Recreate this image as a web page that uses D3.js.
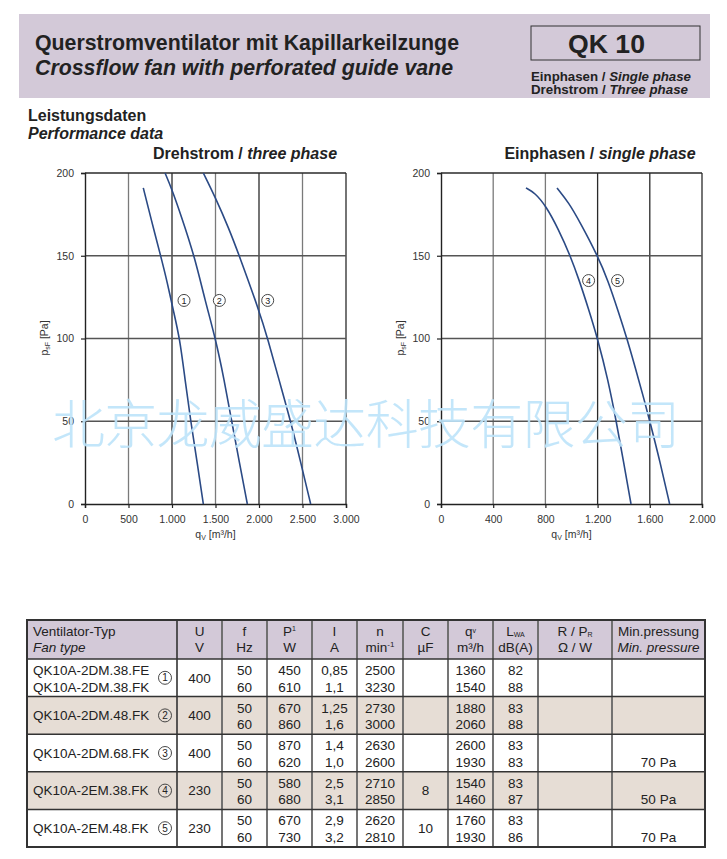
<!DOCTYPE html>
<html>
<head>
<meta charset="utf-8">
<script src="https://cdn.jsdelivr.net/npm/d3@7"></script>
<style>
  body { margin: 0; background: #fff; }
  text { font-family: "Liberation Sans", Arial, Helvetica, sans-serif; }
</style>
</head>
<body>
<div id="chart"></div>
<script>
// performance curves, [q_v m3/h, p_sF Pa]
const curve1 = [[670,191],[760,172],[870,150],[950,133],[1010,118],[1090,100],[1150,75],[1215,50],[1290,25],[1360,0]];
const curve2 = [[920,200],[1000,190],[1100,175],[1257,150],[1380,123],[1500,100],[1600,75],[1686,50],[1775,25],[1866,0]];
const curve3 = [[1360,200],[1500,185],[1650,167],[1774,150],[2000,117],[2100,100],[2230,75],[2364,50],[2480,25],[2594,0]];
const curve4 = [[651,191],[720,188],[805,180],[900,166],[991,150],[1060,135],[1130,118],[1200,100],[1280,75],[1343,50],[1400,25],[1456,0]];
const curve5 = [[889,191],[980,182],[1067,170],[1200,150],[1280,135],[1360,116],[1425,100],[1490,82],[1550,65],[1600,50],[1680,25],[1752,0]];

const threePhaseTicksX = [0,500,1000,1500,2000,2500,3000];
const singlePhaseTicksX = [0,400,800,1200,1600,2000];
const pressureTicks = [0,50,100,150,200];

// curve labels [id, q, p]
const threePhaseLabels = [[1,1138,123],[2,1544,123],[3,2100,123]];
const singlePhaseLabels = [[4,1131,135],[5,1353,135]];

// table data
const fanTypes = [["QK10A-2DM.38.FE","QK10A-2DM.38.FK"],["QK10A-2DM.48.FK"],["QK10A-2DM.68.FK"],["QK10A-2EM.38.FK"],["QK10A-2EM.48.FK"]];
const voltage = ["400","400","400","230","230"];
const freq = [["50","60"],["50","60"],["50","60"],["50","60"],["50","60"]];
const power = [["450","610"],["670","860"],["870","620"],["580","680"],["670","730"]];
const current = [["0,85","1,1"],["1,25","1,6"],["1,4","1,0"],["2,5","3,1"],["2,9","3,2"]];
const speed = [["2500","3230"],["2730","3000"],["2630","2600"],["2710","2850"],["2620","2810"]];
const capacitor = ["","","","8","10"];
const airflow = [["1360","1540"],["1880","2060"],["2600","1930"],["1540","1460"],["1760","1930"]];
const noise = [["82","88"],["83","88"],["83","83"],["83","87"],["83","86"]];
const minPressure = ["","","70 Pa","50 Pa","70 Pa"];

const W = 727, H = 859;
const purple = "#d3c9d8", beige = "#e6ddd5", blue = "#2b4a85";

let svg = d3.select("#chart").append("svg")
    .attr("width", W).attr("height", H)
    .style("background", "#fff");

// ---- header
svg.append("rect").attr("x", 19).attr("y", 14).attr("width", 691).attr("height", 84).attr("fill", purple);
svg.append("text").attr("x", 35).attr("y", 50).style("font-size", "22px").style("font-weight", "bold").attr("fill", "#222")
    .attr("textLength", 424).attr("lengthAdjust", "spacingAndGlyphs")
    .text("Querstromventilator mit Kapillarkeilzunge");
svg.append("text").attr("x", 35).attr("y", 75).style("font-size", "22px").style("font-weight", "bold").style("font-style", "italic").attr("fill", "#222")
    .attr("textLength", 418).attr("lengthAdjust", "spacingAndGlyphs")
    .text("Crossflow fan with perforated guide vane");
svg.append("rect").attr("x", 531).attr("y", 26).attr("width", 169).attr("height", 34)
    .attr("fill", "none").attr("stroke", "#333").attr("stroke-width", 1);
svg.append("text").attr("x", 568).attr("y", 53).style("font-size", "26px").style("font-weight", "bold").attr("fill", "#222")
    .attr("textLength", 77).attr("lengthAdjust", "spacingAndGlyphs")
    .text("QK 10");

function mixedLine(x, y, size, normal, italic, anchor, len) {
    let t = svg.append("text").attr("x", x).attr("y", y).attr("text-anchor", anchor || "start")
        .style("font-size", size + "px").style("font-weight", "bold").attr("fill", "#222");
    if (len) t.attr("textLength", len).attr("lengthAdjust", "spacingAndGlyphs");
    t.append("tspan").text(normal);
    t.append("tspan").style("font-style", "italic").text(italic);
}
mixedLine(531, 81, 12, "Einphasen / ", "Single phase", "start", 160);
mixedLine(531, 94, 12, "Drehstrom / ", "Three phase", "start", 157);

svg.append("text").attr("x", 28).attr("y", 121).style("font-size", "16px").style("font-weight", "bold").attr("fill", "#222").text("Leistungsdaten");
svg.append("text").attr("x", 28).attr("y", 139).style("font-size", "16px").style("font-weight", "bold").style("font-style", "italic").attr("fill", "#222").text("Performance data");

// ---- charts
const deFormat = d3.formatLocale({decimal: ",", thousands: ".", grouping: [3], currency: ["", ""]}).format(",");

function drawChart(opt) {
    let x = d3.scaleLinear().domain(opt.xDomain).range(opt.xRange);
    let y = d3.scaleLinear().domain([0, 200]).range([504, 173]);
    let g = svg.append("g");

    mixedLine(opt.titleX, 159, 16, opt.title[0], opt.title[1], "middle");

    // grid
    g.selectAll(".vg").data(opt.ticksX.slice(1)).enter().append("line")
        .attr("x1", d => x(d)).attr("x2", d => x(d)).attr("y1", y(0)).attr("y2", y(200))
        .attr("stroke", d => opt.darkX.includes(d) ? "#2a2a2a" : "#7a7a7a").attr("stroke-width", 1.3);
    g.selectAll(".hg").data(pressureTicks.slice(1)).enter().append("line")
        .attr("x1", x.range()[0]).attr("x2", x.range()[1]).attr("y1", d => y(d)).attr("y2", d => y(d))
        .attr("stroke", d => d === 200 ? "#2a2a2a" : "#555").attr("stroke-width", 1.3);

    let yAxis = g.append("g").attr("transform", `translate(${x.range()[0]},0)`)
        .call(d3.axisLeft(y).tickValues(pressureTicks).tickSize(4).tickPadding(7));
    let xAxis = g.append("g").attr("transform", `translate(0,${y(0)})`)
        .call(d3.axisBottom(x).tickValues(opt.ticksX).tickFormat(deFormat).tickSize(4).tickPadding(8));
    [yAxis, xAxis].forEach(a => {
        a.select(".domain").attr("stroke", "#222").attr("stroke-width", 1.4);
        a.selectAll(".tick line").attr("stroke", "#222").attr("stroke-width", 1.2);
        a.selectAll(".tick text").attr("fill", "#333").style("font-size", "10.5px")
            .style("font-family", "Liberation Sans, Arial, sans-serif");
    });

    // axis titles
    let xt = g.append("text").attr("x", (x.range()[0] + x.range()[1]) / 2).attr("y", 538)
        .attr("text-anchor", "middle").style("font-size", "10.5px").attr("fill", "#333");
    xt.append("tspan").text("q");
    xt.append("tspan").attr("dy", 2).style("font-size", "7px").text("V");
    xt.append("tspan").attr("dy", -2).text(" [m³/h]");
    let yt = g.append("text").attr("transform", `translate(${x.range()[0] - 37},338) rotate(-90)`)
        .attr("text-anchor", "middle").style("font-size", "10.5px").attr("fill", "#333");
    yt.append("tspan").text("p");
    yt.append("tspan").attr("dy", 2).style("font-size", "7px").text("sF");
    yt.append("tspan").attr("dy", -2).text(" [Pa]");

    let line = d3.line().x(d => x(d[0])).y(d => y(d[1])).curve(d3.curveBasis);
    g.selectAll(".curve").data(opt.curves).enter().append("path")
        .attr("d", line).attr("fill", "none").attr("stroke", blue).attr("stroke-width", 1.6);

    let lab = g.selectAll(".lab").data(opt.labels).enter().append("g")
        .attr("transform", d => `translate(${x(d[1])},${y(d[2])})`);
    lab.append("circle").attr("r", 6).attr("fill", "#fff").attr("stroke", "#333").attr("stroke-width", 0.9);
    lab.append("text").attr("y", 3.3).attr("text-anchor", "middle").style("font-size", "9px").attr("fill", "#222").text(d => d[0]);
}

drawChart({
    xDomain: [0, 3000], xRange: [85, 346], ticksX: threePhaseTicksX, darkX: [1000, 2000, 3000], titleX: 245,
    title: ["Drehstrom / ", "three phase"], curves: [curve1, curve2, curve3], labels: threePhaseLabels
});
drawChart({
    xDomain: [0, 2000], xRange: [441, 702], ticksX: singlePhaseTicksX, darkX: [1200, 1600, 2000], titleX: 600,
    title: ["Einphasen / ", "single phase"], curves: [curve4, curve5], labels: singlePhaseLabels
});

// watermark
svg.append("text").attr("x", 366).attr("y", 444).attr("text-anchor", "middle")
    .style("font-family", "Noto Sans CJK SC").style("font-size", "53px").style("font-weight", 300)
    .attr("fill", "#bde3f9").attr("fill-opacity", 0.9)
    .attr("textLength", 628).attr("lengthAdjust", "spacing")
    .text("北京龙威盛达科技有限公司");

// ---- table
const colX = [27, 177, 222, 267, 312, 357, 403, 448, 493, 538, 612, 705];
const headTop = 620, headBottom = 659, rowH = 37.6;
const rowTop = i => headBottom + i * rowH;
const tableBottom = rowTop(5);

let tb = svg.append("g");
tb.append("rect").attr("x", colX[0]).attr("y", headTop).attr("width", colX[11] - colX[0]).attr("height", headBottom - headTop).attr("fill", purple);
fanTypes.forEach((f, i) => {
    tb.append("rect").attr("x", colX[0]).attr("y", rowTop(i)).attr("width", colX[11] - colX[0]).attr("height", rowH)
        .attr("fill", i % 2 === 1 ? beige : "#fff");
});

const center = c => (colX[c] + colX[c + 1]) / 2;
function cellText(c, yy, txt, size, italic, anchor, xx) {
    return tb.append("text").attr("x", xx !== undefined ? xx : center(c)).attr("y", yy)
        .attr("text-anchor", anchor || "middle").style("font-size", (size || 13.5) + "px")
        .style("font-style", italic ? "italic" : "normal").attr("fill", "#222").text(txt);
}

// header texts
const h1 = headTop + 16, h2 = headTop + 32;
cellText(0, h1, "Ventilator-Typ", 13.5, false, "start", 33);
cellText(0, h2, "Fan type", 13.5, true, "start", 33);
cellText(1, h1, "U"); cellText(1, h2, "V");
cellText(2, h1, "f"); cellText(2, h2, "Hz");
let p1 = cellText(3, h1, "P"); p1.append("tspan").attr("dy", -5).style("font-size", "7px").text("1");
cellText(3, h2, "W");
cellText(4, h1, "I"); cellText(4, h2, "A");
cellText(5, h1, "n");
let mn = cellText(5, h2, "min"); mn.append("tspan").attr("dy", -5).style("font-size", "8px").text("-1");
cellText(6, h1, "C"); cellText(6, h2, "µF");
let qv = cellText(7, h1, "q"); qv.append("tspan").attr("dy", -3).style("font-size", "7px").text("v");
cellText(7, h2, "m³/h");
let lw = cellText(8, h1, "L"); lw.append("tspan").attr("dy", 1).style("font-size", "7px").text("WA");
cellText(8, h2, "dB(A)");
let rp = cellText(9, h1, "R / P"); rp.append("tspan").attr("dy", 1).style("font-size", "7px").text("R");
cellText(9, h2, "Ω  / W");
cellText(10, h1, "Min.pressung");
cellText(10, h2, "Min. pressure", 13.5, true);

// rows
fanTypes.forEach((names, i) => {
    let top = rowTop(i), mid = top + 23.5;
    if (names.length === 2) {
        cellText(0, top + 16, names[0], 13.5, false, "start", 33);
        cellText(0, top + 32.5, names[1], 13.5, false, "start", 33);
    } else {
        cellText(0, mid, names[0], 13.5, false, "start", 33);
    }
    let cg = tb.append("g").attr("transform", `translate(165,${top + rowH / 2})`);
    cg.append("circle").attr("r", 6.5).attr("fill", "none").attr("stroke", "#333").attr("stroke-width", 0.9);
    cg.append("text").attr("y", 3.5).attr("text-anchor", "middle").style("font-size", "10px").attr("fill", "#222").text(i + 1);

    cellText(1, mid, voltage[i]);
    [freq, power, current, speed].forEach((arr, k) => {
        cellText(2 + k, top + 16, arr[i][0]);
        cellText(2 + k, top + 32.5, arr[i][1]);
    });
    cellText(6, mid, capacitor[i]);
    cellText(7, top + 16, airflow[i][0]); cellText(7, top + 32.5, airflow[i][1]);
    cellText(8, top + 16, noise[i][0]); cellText(8, top + 32.5, noise[i][1]);
    cellText(10, top + 32.5, minPressure[i]);
});

// borders
colX.slice(1, 11).forEach((cx, k) => {
    tb.append("line").attr("x1", cx).attr("x2", cx).attr("y1", headTop).attr("y2", tableBottom)
        .attr("stroke", k === 0 ? "#333" : "#666").attr("stroke-width", k === 0 ? 1.6 : 1.8);
});
[headBottom, rowTop(1), rowTop(2), rowTop(3), rowTop(4)].forEach(yy => {
    tb.append("line").attr("x1", colX[0]).attr("x2", colX[11]).attr("y1", yy).attr("y2", yy)
        .attr("stroke", "#333").attr("stroke-width", 1.5);
});
tb.append("rect").attr("x", colX[0]).attr("y", headTop).attr("width", colX[11] - colX[0]).attr("height", tableBottom - headTop)
    .attr("fill", "none").attr("stroke", "#333").attr("stroke-width", 2);
</script>
</body>
</html>
